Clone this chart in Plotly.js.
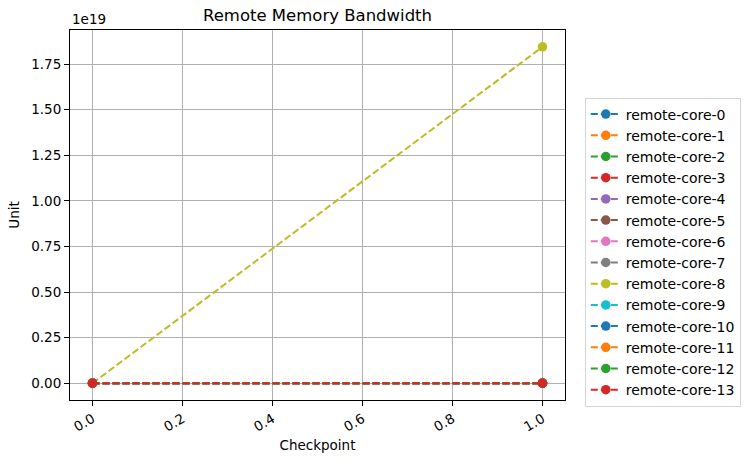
<!DOCTYPE html>
<html><head><meta charset="utf-8">
<script src="https://cdn.plot.ly/plotly-3.0.1.min.js"></script>
<style>body{margin:0;padding:0;background:#fff}#chart{width:753px;height:461px}</style>
</head><body><div id="chart"></div>
<script>
const checkpoints = [0, 1];
const seriesNames = ["remote-core-0","remote-core-1","remote-core-2","remote-core-3","remote-core-4","remote-core-5","remote-core-6","remote-core-7","remote-core-8","remote-core-9","remote-core-10","remote-core-11","remote-core-12","remote-core-13"];
const seriesValues = [
  [0, 0],[0, 0],[0, 0],[0, 0],[0, 0],[0, 0],[0, 0],[0, 0],
  [0, 1.8446744e19],
  [0, 0],[0, 0],[0, 0],[0, 0],[0, 0]
];
const colors = ["#1f77b4","#ff7f0e","#2ca02c","#d62728","#9467bd","#8c564b","#e377c2","#7f7f7f","#bcbd22","#17becf","#1f77b4","#ff7f0e","#2ca02c","#d62728"];
const yTickVals = [0, 0.25e19, 0.5e19, 0.75e19, 1.0e19, 1.25e19, 1.5e19, 1.75e19];
const yTickText = ["0.00","0.25","0.50","0.75","1.00","1.25","1.50","1.75"];
const xTickVals = [0, 0.2, 0.4, 0.6, 0.8, 1.0];
const xTickText = ["0.0","0.2","0.4","0.6","0.8","1.0"];

const font = "DejaVu Sans, sans-serif";
const traces = seriesNames.map((n, i) => ({
  x: checkpoints, y: seriesValues[i], name: n, type: "scatter", mode: "lines+markers",
  line: {color: colors[i], width: 2, dash: "7px,3px"},
  marker: {color: colors[i], size: 9.5}
}));
const ymax = 1.8446744e19;
const layout = {
  width: 753, height: 461,
  margin: {l: 70, r: 186, t: 30, b: 61},
  paper_bgcolor: "#fff", plot_bgcolor: "#fff",
  font: {family: font, size: 14, color: "#000"},
  title: {text: "Remote Memory Bandwidth", font: {family: font, size: 16.5, color: "#000"}, xref: "paper", x: 0.5, xanchor: "center", y: 0.967, yanchor: "middle"},
  xaxis: {
    range: [-0.05, 1.05], tickvals: xTickVals, ticktext: xTickText, tickangle: -30,
    showgrid: true, gridcolor: "#b0b0b0", gridwidth: 1, zeroline: false,
    showline: true, linecolor: "#000", linewidth: 1, mirror: true,
    ticks: "outside", ticklen: 5, tickcolor: "#000", tickfont: {size: 13.5},
    title: {text: "Checkpoint", font: {size: 13.5}, standoff: 6}
  },
  yaxis: {
    range: [-0.05 * ymax, 1.05 * ymax], tickvals: yTickVals, ticktext: yTickText,
    showgrid: true, gridcolor: "#b0b0b0", gridwidth: 1, zeroline: false,
    showline: true, linecolor: "#000", linewidth: 1, mirror: true,
    ticks: "outside", ticklen: 5, tickcolor: "#000", tickfont: {size: 13.5},
    title: {text: "Unit", font: {size: 13.5}, standoff: 8}
  },
  legend: {
    x: 1.04, xanchor: "left", y: 0.40, yanchor: "middle",
    bgcolor: "#fff", bordercolor: "#d5d5d5", borderwidth: 1,
    font: {size: 14}, tracegroupgap: 0
  },
  annotations: [{text: "1e19", xref: "paper", yref: "paper", x: 0, y: 1, xanchor: "left", yanchor: "bottom", showarrow: false, font: {size: 13.5}, yshift: 1}]
};
Plotly.newPlot("chart", traces, layout, {displayModeBar: false, staticPlot: true});
</script></body></html>
